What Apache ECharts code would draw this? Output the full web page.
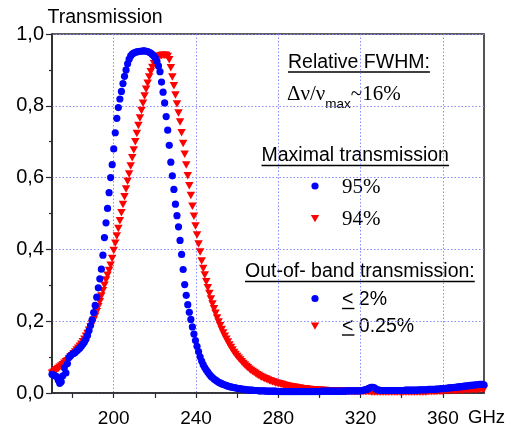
<!DOCTYPE html>
<html>
<head>
<meta charset="utf-8">
<script src="https://cdn.jsdelivr.net/npm/echarts@6/dist/echarts.min.js"></script>
<style>
  html, body { margin: 0; padding: 0; background: #fff; }
  #chart { width: 515px; height: 425px; }
</style>
</head>
<body>
<div id="chart"></div>
<script>
// Frequency sampling grid of both measured filter spectra (GHz)
const FREQ_START_GHZ = 170;
const FREQ_STEP_GHZ = 0.75;

// Filter A (circles): transmission, one row per 3 GHz (4 samples)
const transmissionA = [
  0.052,0.050,0.048,0.046, // 170
  0.036,0.027,0.031,0.048, // 173
  0.070,0.056,0.082,0.099, // 176
  0.104,0.108,0.110,0.113, // 179
  0.117,0.121,0.125,0.130, // 182
  0.136,0.142,0.150,0.160, // 185
  0.174,0.188,0.204,0.224, // 188
  0.244,0.267,0.293,0.318, // 191
  0.345,0.384,0.433,0.474, // 194
  0.514,0.558,0.600,0.636, // 197
  0.680,0.725,0.765,0.795, // 200
  0.819,0.840,0.862,0.882, // 203
  0.900,0.917,0.930,0.939, // 206
  0.944,0.947,0.949,0.950, // 209
  0.951,0.952,0.952,0.953, // 212
  0.953,0.952,0.951,0.949, // 215
  0.947,0.943,0.939,0.933, // 218
  0.924,0.911,0.895,0.866, // 221
  0.838,0.808,0.770,0.732, // 224
  0.690,0.643,0.605,0.567, // 227
  0.526,0.494,0.463,0.425, // 230
  0.386,0.344,0.302,0.272, // 233
  0.246,0.225,0.205,0.184, // 236
  0.164,0.146,0.130,0.115, // 239
  0.101,0.089,0.079,0.071, // 242
  0.064,0.058,0.052,0.047, // 245
  0.043,0.039,0.036,0.033, // 248
  0.030,0.028,0.026,0.024, // 251
  0.022,0.021,0.019,0.018, // 254
  0.017,0.016,0.015,0.014, // 257
  0.013,0.012,0.012,0.011, // 260
  0.010,0.010,0.009,0.009, // 263
  0.008,0.008,0.008,0.007, // 266
  0.007,0.007,0.006,0.006, // 269
  0.006,0.006,0.006,0.005, // 272
  0.005,0.005,0.005,0.005, // 275
  0.005,0.005,0.004,0.004, // 278
  0.004,0.004,0.004,0.004, // 281
  0.004,0.004,0.004,0.004, // 284
  0.004,0.004,0.004,0.004, // 287
  0.004,0.004,0.004,0.004, // 290
  0.004,0.004,0.004,0.004, // 293
  0.004,0.004,0.004,0.004, // 296
  0.004,0.004,0.004,0.005, // 299
  0.005,0.005,0.005,0.005, // 302
  0.005,0.005,0.005,0.005, // 305
  0.005,0.005,0.005,0.005, // 308
  0.005,0.005,0.005,0.006, // 311
  0.006,0.006,0.006,0.006, // 314
  0.006,0.006,0.006,0.006, // 317
  0.006,0.007,0.008,0.009, // 320
  0.010,0.012,0.014,0.016, // 323
  0.016,0.014,0.011,0.009, // 326
  0.008,0.007,0.007,0.007, // 329
  0.007,0.007,0.007,0.007, // 332
  0.007,0.007,0.007,0.007, // 335
  0.007,0.007,0.007,0.007, // 338
  0.007,0.008,0.008,0.008, // 341
  0.008,0.008,0.008,0.008, // 344
  0.008,0.008,0.009,0.009, // 347
  0.009,0.009,0.009,0.009, // 350
  0.010,0.010,0.010,0.010, // 353
  0.010,0.011,0.011,0.011, // 356
  0.012,0.012,0.012,0.013, // 359
  0.013,0.014,0.014,0.015, // 362
  0.015,0.016,0.016,0.017, // 365
  0.017,0.018,0.018,0.019, // 368
  0.019,0.020,0.020,0.021, // 371
  0.021,0.022,0.022,0.023, // 374
  0.023,0.024,0.024,0.024, // 377
  0.023                    // 380
];

// Filter B (triangles): transmission on the same grid
const transmissionB = [
  0.055,0.058,0.062,0.065, // 170
  0.068,0.072,0.075,0.079, // 173
  0.083,0.087,0.090,0.095, // 176
  0.100,0.104,0.109,0.114, // 179
  0.120,0.125,0.130,0.136, // 182
  0.143,0.150,0.158,0.166, // 185
  0.175,0.184,0.193,0.203, // 188
  0.214,0.226,0.240,0.254, // 191
  0.270,0.285,0.300,0.315, // 194
  0.328,0.341,0.356,0.375, // 197
  0.397,0.417,0.437,0.458, // 200
  0.480,0.502,0.525,0.547, // 203
  0.568,0.590,0.610,0.632, // 206
  0.655,0.677,0.700,0.723, // 209
  0.745,0.766,0.787,0.807, // 212
  0.827,0.846,0.863,0.880, // 215
  0.895,0.907,0.918,0.927, // 218
  0.933,0.937,0.939,0.940, // 221
  0.941,0.941,0.940,0.937, // 224
  0.928,0.906,0.880,0.856, // 227
  0.830,0.805,0.780,0.755, // 230
  0.725,0.695,0.665,0.635, // 233
  0.605,0.577,0.550,0.520, // 236
  0.492,0.465,0.440,0.415, // 239
  0.393,0.368,0.347,0.329, // 242
  0.310,0.293,0.277,0.262, // 245
  0.248,0.235,0.222,0.209, // 248
  0.198,0.187,0.177,0.167, // 251
  0.158,0.150,0.142,0.134, // 254
  0.127,0.120,0.113,0.107, // 257
  0.102,0.097,0.092,0.087, // 260
  0.082,0.078,0.074,0.070, // 263
  0.066,0.063,0.060,0.057, // 266
  0.054,0.051,0.049,0.046, // 269
  0.044,0.042,0.040,0.038, // 272
  0.036,0.034,0.033,0.031, // 275
  0.030,0.028,0.027,0.026, // 278
  0.025,0.024,0.022,0.021, // 281
  0.020,0.019,0.018,0.017, // 284
  0.017,0.016,0.015,0.014, // 287
  0.013,0.013,0.012,0.012, // 290
  0.011,0.011,0.010,0.010, // 293
  0.009,0.009,0.009,0.008, // 296
  0.008,0.008,0.007,0.007, // 299
  0.007,0.007,0.006,0.006, // 302
  0.006,0.006,0.006,0.005, // 305
  0.005,0.005,0.005,0.005, // 308
  0.005,0.005,0.005,0.004, // 311
  0.004,0.004,0.004,0.004, // 314
  0.004,0.004,0.004,0.004, // 317
  0.004,0.004,0.004,0.004, // 320
  0.004,0.004,0.004,0.003, // 323
  0.003,0.003,0.003,0.003, // 326
  0.003,0.003,0.003,0.003, // 329
  0.003,0.003,0.003,0.003, // 332
  0.003,0.003,0.003,0.003, // 335
  0.003,0.003,0.003,0.003, // 338
  0.003,0.003,0.003,0.003, // 341
  0.003,0.003,0.003,0.003, // 344
  0.003,0.003,0.003,0.003, // 347
  0.003,0.003,0.003,0.003, // 350
  0.004,0.004,0.004,0.004, // 353
  0.004,0.004,0.005,0.005, // 356
  0.005,0.005,0.006,0.006, // 359
  0.006,0.006,0.007,0.007, // 362
  0.007,0.007,0.008,0.008, // 365
  0.008,0.008,0.008,0.009, // 368
  0.009,0.009,0.009,0.009, // 371
  0.010,0.010,0.010,0.010, // 374
  0.010,0.010,0.011,0.011, // 377
  0.011                    // 380
];

// Axis ticks and labels
const xTickValues = [180, 200, 220, 240, 260, 280, 300, 320, 340, 360];
const xLabelValues = [200, 240, 280, 320, 360];
const xGridValues = [200, 240, 280, 320, 360];
const yAxisTitle = 'Transmission';

// Annotation texts
const headingFwhm = 'Relative FWHM:';
const fwhmRatio = 'Δν/ν';
const fwhmSub = 'max';
const fwhmValue = '~16%';
const headingMaxT = 'Maximal transmission';
const maxTA = '95%';
const maxTB = '94%';
const headingOob = 'Out-of- band transmission:';
const oobSign = '<';
const oobA = '2%';
const oobB = '0.25%';

const COLOR_A = '#0000ff';
const COLOR_B = '#ff0000';
const SANS = '"Liberation Sans", Arial, Helvetica, sans-serif';
const SERIF = '"Liberation Serif", "Times New Roman", Times, serif';

const toPairs = arr => arr.map((v, i) => [FREQ_START_GHZ + i * FREQ_STEP_GHZ, v]);

const measureCtx = document.createElement('canvas').getContext('2d');
function textWidth(text, size, family) {
  measureCtx.font = size + 'px ' + family;
  return measureCtx.measureText(text).width;
}

function label(text, x, y, size, family) {
  return {
    type: 'text', x: x, y: y, silent: true,
    style: {
      text: text, fontSize: size, fontFamily: family, fill: '#000',
      align: 'left', verticalAlign: 'middle', textAlign: 'left', textVerticalAlign: 'middle'
    }
  };
}
function underline(x1, x2, y) {
  return {
    type: 'line', silent: true,
    shape: { x1: x1, y1: y, x2: x2, y2: y },
    style: { stroke: '#000', lineWidth: 1.4 }
  };
}
function dotKey(cx, cy) {
  return { type: 'circle', silent: true, shape: { cx: cx, cy: cy, r: 3.6 }, style: { fill: COLOR_A } };
}
function triKey(cx, cy) {
  return {
    type: 'polygon', silent: true,
    shape: { points: [[cx - 4.2, cy - 3.5], [cx + 4.2, cy - 3.5], [cx, cy + 3.8]] },
    style: { fill: COLOR_B }
  };
}

const HEAD = 19.5;
const SER = 21;
const SUB = 13.5;

const xRatio = 287;
const xSub = xRatio + textWidth(fwhmRatio, SER, SERIF);
const xVal = xSub + textWidth(fwhmSub, SUB, SANS);
const keyTextX = 342;
const signW = textWidth(oobSign, HEAD, SANS);
const gapW = textWidth(' ', HEAD, SANS);

const graphics = [
  // y-axis title above the plot frame
  label(yAxisTitle, 47.5, 18, 19.5, SANS),

  label(headingFwhm, 288, 63, HEAD, SANS),
  underline(288, 288 + textWidth(headingFwhm, HEAD, SANS), 72),
  label(fwhmRatio, xRatio, 94, SER, SERIF),
  label(fwhmSub, xSub, 104.5, SUB, SANS),
  label(fwhmValue, xVal, 94, SER, SERIF),

  label(headingMaxT, 261.5, 156, HEAD, SANS),
  underline(261.5, 261.5 + textWidth(headingMaxT, HEAD, SANS), 165.5),
  dotKey(315, 186),
  label(maxTA, keyTextX, 187.5, SER, SERIF),
  triKey(315, 218.5),
  label(maxTB, keyTextX, 219.5, SER, SERIF),

  label(headingOob, 245, 272, HEAD, SANS),
  underline(245, 245 + textWidth(headingOob, HEAD, SANS), 281.5),
  dotKey(315, 298.5),
  label(oobSign, keyTextX, 300, HEAD, SANS),
  underline(keyTextX, keyTextX + signW + 1, 308.5),
  label(oobA, keyTextX + signW + gapW, 300, HEAD, SANS),
  triKey(315, 326),
  label(oobSign, keyTextX, 326.5, HEAD, SANS),
  underline(keyTextX, keyTextX + signW + 1, 335),
  label(oobB, keyTextX + signW + gapW, 326.5, HEAD, SANS)
];

const gridStyle = { color: '#8a8aff', width: 1, type: [1.5, 2] };

const chart = echarts.init(document.getElementById('chart'), null, { renderer: 'canvas' });
chart.setOption({
  animation: false,
  backgroundColor: '#fff',
  grid: {
    left: 52, right: 31, top: 34, bottom: 32,
    containLabel: false, outerBoundsMode: 'none',
    show: true, borderColor: '#2a2a2a', borderWidth: 1.6, backgroundColor: 'transparent'
  },
  xAxis: [
    {
      type: 'value', min: 170, max: 380,
      name: 'GHz', nameLocation: 'end', nameGap: 21,
      nameTextStyle: { fontFamily: SANS, fontSize: 18.5, color: '#000', align: 'right', verticalAlign: 'top', padding: [15, 0, 0, 0] },
      axisLine: { show: true, onZero: false, lineStyle: { color: '#2a2a2a', width: 1.6 } },
      axisTick: { show: true, inside: false, length: 5, customValues: xTickValues, lineStyle: { color: '#2a2a2a', width: 1.2 } },
      axisLabel: { show: true, customValues: xLabelValues, margin: 16.5, fontFamily: SANS, fontSize: 19, color: '#000' },
      splitLine: { show: false }
    },
    {
      type: 'value', min: 170, max: 380, position: 'bottom',
      axisLine: { show: false },
      axisTick: { show: false, customValues: xGridValues },
      axisLabel: { show: false },
      splitLine: { show: true, lineStyle: gridStyle }
    }
  ],
  yAxis: {
    type: 'value', min: 0, max: 1, interval: 0.2,
    axisLine: { show: true, lineStyle: { color: '#2a2a2a', width: 1.6 } },
    axisTick: { show: true, inside: false, length: 6, lineStyle: { color: '#2a2a2a', width: 1.2 } },
    minorTick: { show: true, splitNumber: 2, length: 3, lineStyle: { color: '#2a2a2a', width: 1.2 } },
    axisLabel: {
      margin: 8, fontFamily: SANS, fontSize: 20, color: '#000',
      formatter: v => v.toFixed(1).replace('.', ',')
    },
    splitLine: { show: true, lineStyle: gridStyle }
  },
  series: [
    {
      name: 'B', type: 'scatter', xAxisIndex: 0,
      symbol: 'triangle', symbolRotate: 180, symbolSize: [8.5, 7.5],
      itemStyle: { color: COLOR_B, opacity: 1 },
      data: toPairs(transmissionB), z: 3
    },
    {
      name: 'A', type: 'scatter', xAxisIndex: 0,
      symbol: 'circle', symbolSize: 7.2,
      itemStyle: { color: COLOR_A, opacity: 1 },
      data: toPairs(transmissionA), z: 4
    }
  ],
  graphic: graphics
});
</script>
</body>
</html>
